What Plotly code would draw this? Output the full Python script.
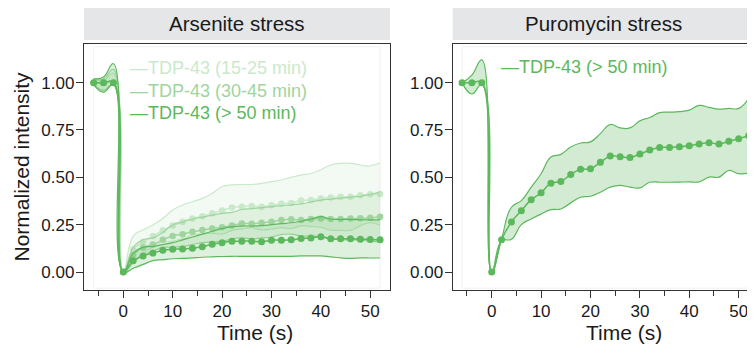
import plotly.graph_objects as go

T = [-6, -4, -2, 0, 2, 4, 6, 8, 10, 12, 14, 16, 18, 20, 22, 24, 26, 28, 30, 32,
     34, 36, 38, 40, 42, 44, 46, 48, 50, 52]

# Arsenite stress, TDP-43 (15-25 min)
ARS_EARLY_MEAN = [1.00, 1.00, 1.00, 0.00, 0.12, 0.16, 0.19, 0.22, 0.245, 0.265, 0.283, 0.295, 0.31, 0.325,
                  0.34, 0.345, 0.348, 0.345, 0.352, 0.36, 0.365, 0.378, 0.38, 0.388,
                  0.393, 0.397, 0.397, 0.405, 0.41, 0.412]
ARS_EARLY_UPPER = [1.02, 1.01, 1.05, 0.00, 0.19, 0.222, 0.248, 0.283, 0.327, 0.354, 0.371, 0.389, 0.415, 0.45,
                   0.46, 0.462, 0.462, 0.468, 0.477, 0.486, 0.50, 0.512, 0.52, 0.54,
                   0.565, 0.574, 0.574, 0.565, 0.56, 0.577]
ARS_EARLY_LOWER = [0.99, 0.96, 0.99, 0.00, 0.05, 0.098, 0.132, 0.157, 0.163, 0.176, 0.195, 0.201, 0.205, 0.20,
                   0.22, 0.228, 0.234, 0.222, 0.227, 0.234, 0.23, 0.244, 0.24, 0.236,
                   0.221, 0.22, 0.22, 0.245, 0.26, 0.247]

# Arsenite stress, TDP-43 (30-45 min)
ARS_MID_MEAN = [1.00, 1.00, 1.00, 0.00, 0.09, 0.13, 0.145, 0.17, 0.19, 0.20, 0.212, 0.222, 0.23, 0.236,
                0.245, 0.256, 0.255, 0.26, 0.265, 0.274, 0.278, 0.275, 0.28, 0.283,
                0.28, 0.28, 0.282, 0.284, 0.286, 0.292]
ARS_MID_UPPER = [1.02, 1.02, 1.07, 0.00, 0.13, 0.17, 0.18, 0.21, 0.25, 0.265, 0.28, 0.29, 0.30, 0.31,
                 0.315, 0.33, 0.335, 0.34, 0.345, 0.35, 0.355, 0.36, 0.37, 0.38,
                 0.385, 0.39, 0.395, 0.40, 0.41, 0.424]
ARS_MID_LOWER = [0.99, 0.96, 0.99, 0.00, 0.05, 0.09, 0.11, 0.13, 0.13, 0.135, 0.145, 0.155, 0.16, 0.162,
                 0.175, 0.18, 0.175, 0.18, 0.185, 0.198, 0.20, 0.19, 0.19, 0.186,
                 0.175, 0.17, 0.17, 0.168, 0.162, 0.16]

# Arsenite stress, TDP-43 (> 50 min)
ARS_LATE_MEAN = [1.00, 1.00, 1.00, 0.00, 0.06, 0.085, 0.10, 0.115, 0.12, 0.122, 0.125, 0.134, 0.146, 0.155,
                 0.162, 0.163, 0.163, 0.16, 0.168, 0.168, 0.17, 0.177, 0.18, 0.186,
                 0.176, 0.175, 0.175, 0.173, 0.172, 0.17]
ARS_LATE_UPPER = [1.02, 1.03, 1.10, 0.00, 0.10, 0.13, 0.135, 0.145, 0.155, 0.17, 0.185, 0.20, 0.215, 0.23,
                  0.24, 0.243, 0.243, 0.245, 0.25, 0.255, 0.26, 0.268, 0.28, 0.292,
                  0.28, 0.278, 0.278, 0.276, 0.275, 0.275]
ARS_LATE_LOWER = [0.99, 0.95, 0.99, 0.00, 0.02, 0.04, 0.06, 0.065, 0.07, 0.072, 0.075, 0.078, 0.08, 0.082,
                  0.083, 0.083, 0.083, 0.083, 0.083, 0.083, 0.083, 0.085, 0.085, 0.085,
                  0.08, 0.075, 0.072, 0.075, 0.074, 0.074]

# Puromycin stress, TDP-43 (> 50 min)
PURO_MEAN = [1.00, 1.00, 1.00, 0.00, 0.17, 0.264, 0.324, 0.382, 0.418, 0.469, 0.478, 0.515, 0.542, 0.545,
             0.579, 0.612, 0.609, 0.605, 0.623, 0.644, 0.658, 0.658, 0.662, 0.667,
             0.676, 0.683, 0.676, 0.69, 0.704, 0.719]
PURO_UPPER = [1.00, 1.04, 1.12, 0.00, 0.175, 0.342, 0.377, 0.448, 0.519, 0.607, 0.621, 0.66, 0.681, 0.687,
              0.731, 0.779, 0.761, 0.761, 0.798, 0.816, 0.842, 0.844, 0.847, 0.855,
              0.88, 0.869, 0.86, 0.864, 0.864, 0.917]
PURO_LOWER = [1.00, 0.94, 0.99, 0.00, 0.165, 0.173, 0.25, 0.28, 0.306, 0.329, 0.333, 0.365, 0.395, 0.40,
              0.421, 0.448, 0.457, 0.448, 0.444, 0.474, 0.474, 0.474, 0.475, 0.476,
              0.476, 0.501, 0.501, 0.536, 0.519, 0.522]

PANEL_TITLES = ["Arsenite stress", "Puromycin stress"]
LEGEND_LABELS = ["TDP-43 (15-25 min)", "TDP-43 (30-45 min)", "TDP-43 (> 50 min)"]
X_TICKS = [0, 10, 20, 30, 40, 50]
X_MINOR = [-5, 5, 15, 25, 35, 45]
Y_TICKS = [0, 0.25, 0.5, 0.75, 1.0]
Y_TICK_TEXT = ["0.00", "0.25", "0.50", "0.75", "1.00"]

FONT = "Liberation Sans, Arial, sans-serif"
C_LATE = "rgb(92,184,92)"
C_MID = "rgb(158,213,158)"
C_EARLY = "rgb(202,233,202)"
F_LATE = "rgba(92,184,92,0.20)"
F_MID = "rgba(92,184,92,0.12)"
F_EARLY = "rgba(92,184,92,0.07)"
F_PURO = "rgba(92,184,92,0.28)"

fig = go.Figure()


def add_series(xa, ya, mean, upper, lower, lc, fc, msize, lw_edge):
    fig.add_trace(go.Scatter(x=T, y=lower, mode="lines", line=dict(color=lc, width=lw_edge, shape="spline", smoothing=1.3),
                             xaxis=xa, yaxis=ya, showlegend=False, hoverinfo="skip"))
    fig.add_trace(go.Scatter(x=T, y=upper, mode="lines", fill="tonexty", fillcolor=fc,
                             line=dict(color=lc, width=lw_edge, shape="spline", smoothing=1.3),
                             xaxis=xa, yaxis=ya, showlegend=False, hoverinfo="skip"))
    fig.add_trace(go.Scatter(x=T, y=mean, mode="lines+markers",
                             line=dict(color=lc, width=1.5, shape="spline", smoothing=1.3),
                             marker=dict(color=lc, size=msize),
                             xaxis=xa, yaxis=ya, showlegend=False))


add_series("x", "y", ARS_EARLY_MEAN, ARS_EARLY_UPPER, ARS_EARLY_LOWER, C_EARLY, F_EARLY, 6.5, 1.2)
add_series("x", "y", ARS_MID_MEAN, ARS_MID_UPPER, ARS_MID_LOWER, C_MID, F_MID, 6.5, 1.2)
add_series("x", "y", ARS_LATE_MEAN, ARS_LATE_UPPER, ARS_LATE_LOWER, C_LATE, F_LATE, 7, 1.2)
add_series("x2", "y2", PURO_MEAN, PURO_UPPER, PURO_LOWER, C_LATE, F_PURO, 7, 1.2)

axis_common = dict(showgrid=False, zeroline=False, showline=True, linecolor="#333333", linewidth=1.3,
                   ticks="outside", tickcolor="#333333", tickwidth=1.2, ticklen=7,
                   tickfont=dict(family=FONT, size=17, color="#1a1a1a"))
minor_x = dict(tickvals=X_MINOR, ticks="outside", ticklen=5, tickcolor="#333333", tickwidth=1.2)

# The page body adds an 8 px offset, so the figure is 8 px smaller each way.
fig.update_layout(
    width=747, height=337,
    margin=dict(l=76, r=0, t=36, b=55, autoexpand=False),
    paper_bgcolor="white", plot_bgcolor="white",
    showlegend=False,
    font=dict(family=FONT),
    xaxis=dict(domain=[0, 0.456], range=[-7.96, 54.0], tickvals=X_TICKS, mirror=True,
               ticklabelstandoff=-2, minor=minor_x, **axis_common),
    yaxis=dict(domain=[0, 1], range=[-0.095, 1.204], tickvals=Y_TICKS, ticktext=Y_TICK_TEXT, mirror=True,
               anchor="x", ticklabelstandoff=-2, **axis_common),
    xaxis2=dict(domain=[0.5495, 1.0], range=[-7.89, 53.3], tickvals=X_TICKS, mirror=True, anchor="y2",
                ticklabelstandoff=-2, minor=minor_x, **axis_common),
    yaxis2=dict(domain=[0, 1], range=[-0.095, 1.204], tickvals=Y_TICKS, ticktext=Y_TICK_TEXT, mirror=False,
                anchor="x2", ticklabelstandoff=-2, **axis_common),
)

shapes = []
annotations = []
for i, (xa, ya) in enumerate([("x", "y"), ("x2", "y2")]):
    shapes.append(dict(type="rect", xref=f"{xa} domain", yref=f"{ya} domain", x0=0, x1=1,
                       y0=1.0163, y1=1.1504, fillcolor="#e4e6e8", line=dict(width=0), layer="below"))
    shapes.append(dict(type="rect", xref=xa, yref=ya, x0=-6, x1=52, y0=-0.085, y1=1.19,
                       line=dict(color="#eef2ee", width=1), layer="below"))
    annotations.append(dict(text=PANEL_TITLES[i], xref=f"{xa} domain", yref=f"{ya} domain",
                            x=0.5, y=1.0833, xanchor="center", yanchor="middle", showarrow=False,
                            font=dict(family=FONT, size=20.5, color="#1a1a1a")))
    annotations.append(dict(text="Time (s)", xref=xa, yref=f"{ya} domain", x=26.7, y=0, yshift=-42,
                            xanchor="center", yanchor="middle", showarrow=False,
                            font=dict(family=FONT, size=21, color="#1a1a1a")))

annotations.append(dict(text="Normalized intensity", xref="paper", yref="y domain", x=0, y=0.5,
                        xshift=-63.5, xanchor="center", yanchor="middle", textangle=-90, showarrow=False,
                        font=dict(family=FONT, size=21, color="#1a1a1a")))

leg_colors = [C_EARLY, C_MID, C_LATE]
leg_y = [1.078, 0.958, 0.84]
for lbl, col, yy in zip(LEGEND_LABELS, leg_colors, leg_y):
    annotations.append(dict(text="\u2014" + lbl, xref="x", yref="y", x=0.95, y=yy, xanchor="left",
                            yanchor="middle", showarrow=False, font=dict(family=FONT, size=18, color=col)))
annotations.append(dict(text="\u2014" + LEGEND_LABELS[2], xref="x2", yref="y2", x=1.47, y=1.083,
                        xanchor="left", yanchor="middle", showarrow=False,
                        font=dict(family=FONT, size=18, color=C_LATE)))

fig.update_layout(shapes=shapes, annotations=annotations)
fig.write_html("out.html")
